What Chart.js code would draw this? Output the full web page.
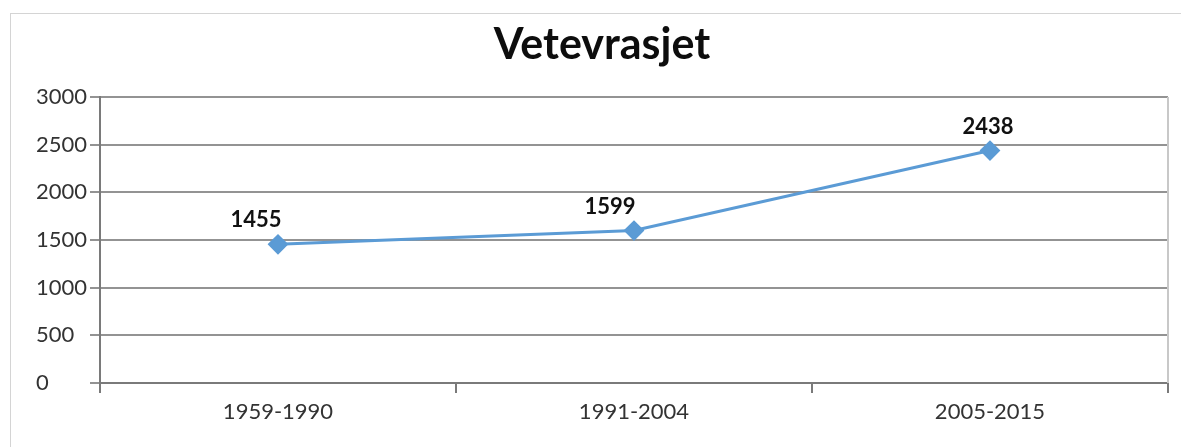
<!DOCTYPE html>
<html>
<head>
<meta charset="utf-8">
<script src="https://cdn.jsdelivr.net/npm/chart.js@4"></script>
<style>
  html, body { margin: 0; padding: 0; background: #fff; }
  #wrap { position: relative; width: 1181px; height: 447px; overflow: hidden; }
  #frame { position: absolute; left: 10px; top: 13px; width: 1200px; height: 460px; border: 1px solid #d4d4d4; }
  canvas { position: absolute; left: 0; top: 0; }
</style>
</head>
<body>
<div id="wrap">
  <div id="frame"></div>
  <canvas id="c" width="1181" height="447"></canvas>
</div>
<script>
const chartTitle = 'Vetevrasjet';
const categories = ['1959-1990', '1991-2004', '2005-2015'];
const values = [1455, 1599, 2438];
const yTicks = [0, 500, 1000, 1500, 2000, 2500, 3000];

const labelStyle = { dx: [-22, -24, -2], dy: -24 };

const dataLabels = {
  id: 'dataLabels',
  afterDatasetsDraw(chart) {
    const ctx = chart.ctx;
    const meta = chart.getDatasetMeta(0);
    ctx.save();
    ctx.font = 'bold 22px Lato';
    ctx.fillStyle = '#111';
    ctx.textAlign = 'center';
    ctx.textBaseline = 'middle';
    meta.data.forEach((pt, i) => {
      ctx.fillText(String(values[i]), pt.x + labelStyle.dx[i], pt.y + labelStyle.dy);
    });
    ctx.restore();
  }
};

const rightEdge = {
  id: 'rightEdge',
  beforeDatasetsDraw(chart) {
    const a = chart.chartArea, ctx = chart.ctx;
    ctx.save();
    ctx.strokeStyle = '#c8c8c8';
    ctx.lineWidth = 2;
    ctx.beginPath();
    ctx.moveTo(a.right, a.top);
    ctx.lineTo(a.right, a.bottom);
    ctx.stroke();
    ctx.restore();
  }
};

new Chart(document.getElementById('c'), {
  type: 'line',
  data: {
    labels: categories,
    datasets: [{
      data: values,
      borderColor: '#5b9bd5',
      backgroundColor: '#5b9bd5',
      borderWidth: 3,
      pointStyle: 'rectRot',
      pointRadius: 9,
      pointBorderWidth: 2,
      pointBackgroundColor: '#5b9bd5',
      pointBorderColor: '#5b9bd5',
      tension: 0
    }]
  },
  options: {
    responsive: false,
    animation: false,
    devicePixelRatio: 1,
    layout: { padding: { left: 36, right: 13, top: 0, bottom: 0 } },
    plugins: {
      legend: { display: false },
      tooltip: { enabled: false },
      title: {
        display: true,
        text: chartTitle,
        color: '#0d0d0d',
        font: { family: 'Lato', size: 43, weight: 'bold', lineHeight: 1.2 },
        padding: { top: 19, bottom: 26.4 }
      }
    },
    scales: {
      x: {
        type: 'category',
        offset: true,
        grid: { display: true, drawOnChartArea: false, offset: true, color: '#7a7a7a', lineWidth: 2, tickLength: 10 },
        border: { display: true, color: '#7a7a7a', width: 2 },
        ticks: { color: '#333', font: { family: 'Lato', size: 22 }, padding: 6, maxRotation: 0 },
        afterFit(s) { s.height = 64; }
      },
      y: {
        min: 0, max: 3000,
        afterBuildTicks(s) { s.ticks = yTicks.map(v => ({ value: v })); },
        grid: { color: '#939393', lineWidth: 2, tickLength: 10 },
        border: { display: true, color: '#7a7a7a', width: 2 },
        ticks: { color: '#333', font: { family: 'Lato', size: 22 }, crossAlign: 'far', padding: 4, callback: v => String(v) },
        afterFit(s) { s.width = 64; }
      }
    }
  },
  plugins: [rightEdge, dataLabels]
});
</script>
</body>
</html>
